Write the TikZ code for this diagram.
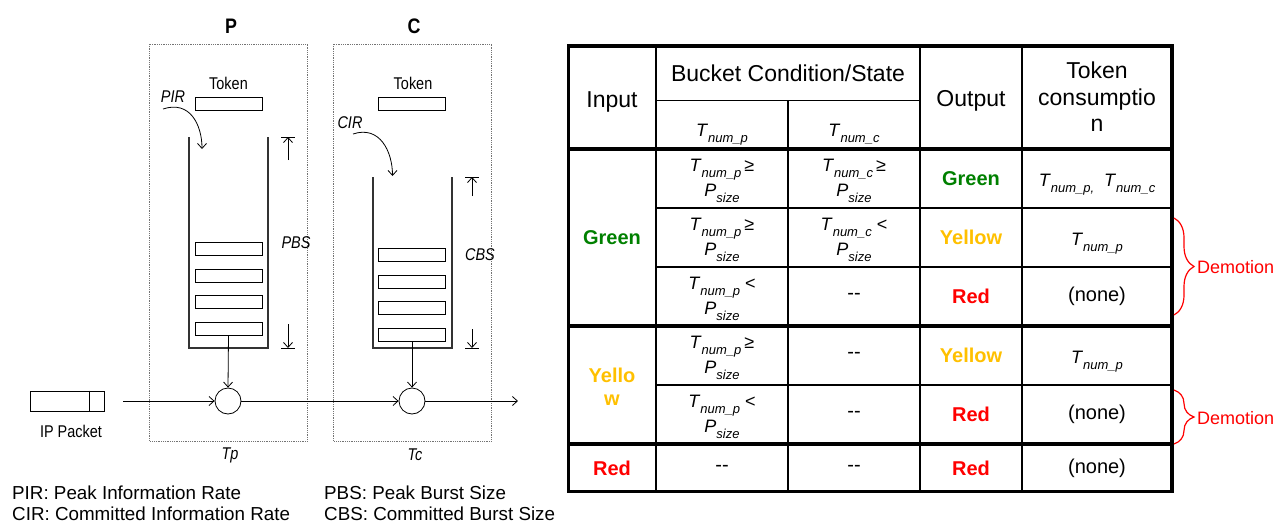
\documentclass[tikz,border=0pt]{standalone}
\usepackage{fontspec}
\setmainfont{Liberation Sans}
\newfontfamily\narrowsf[FakeStretch=0.85]{Liberation Sans}
\usetikzlibrary{arrows.meta,decorations.pathreplacing}
\definecolor{okgreen}{RGB}{0,128,0}
\definecolor{warnyellow}{RGB}{255,192,0}
\definecolor{alertred}{RGB}{255,0,0}
% italic symbol with a lowered italic index
\newcommand{\Tsub}[2]{\textit{#1}\raisebox{-6pt}{\fontsize{13}{13}\selectfont\itshape #2}}
% two plain hyphens, no en dash ligature
\newcommand{\nocond}{-{}-}

\begin{document}
\begin{tikzpicture}[x=1pt,y=-1pt,
  lbl/.style={inner sep=0pt, font=\narrowsf\fontsize{17}{20}\selectfont},
  ital/.style={inner sep=0pt, font=\narrowsf\itshape\fontsize{17}{20}\selectfont},
  title/.style={inner sep=0pt, font=\narrowsf\bfseries\fontsize{21}{24}\selectfont},
  tokenbar/.style={draw, line width=0.8pt, minimum width=67pt, minimum height=13pt, inner sep=0pt},
  wall/.style={draw=black!80, line width=1.1pt},
  area/.style={draw=black!55, densely dotted, line width=0.8pt},
  flow/.style={line width=0.8pt, -{Straight Barb[length=5pt,width=9pt]}},
  gate/.style={circle, draw, line width=0.8pt, minimum size=26pt, inner sep=0pt},
  legend/.style={inner sep=0pt, anchor=base west, font=\fontsize{18.8}{21}\selectfont},
  thin/.style={line width=1.5pt},
  thick/.style={line width=3.5pt},
  hdr/.style={inner sep=0pt, font=\fontsize{23}{26.5}\selectfont, align=center},
  cell/.style={inner sep=0pt, font=\fontsize{18}{25}\selectfont, align=center},
  state/.style={inner sep=0pt, font=\bfseries\fontsize{20}{23}\selectfont, align=center},
  body/.style={inner sep=0pt, font=\fontsize{20}{23}\selectfont},
  demo/.style={draw=alertred, line width=1.2pt, decorate, decoration={brace, amplitude=20pt, aspect=0.5}},
  demotxt/.style={inner sep=0pt, anchor=west, text=alertred, font=\fontsize{18}{20}\selectfont}
]
\useasboundingbox (0,0) rectangle (1279,525);

% ---------------- dual token bucket meter ----------------
\draw[area] (149.5,44) rectangle (307.5,441);
\draw[area] (333.5,44) rectangle (491.5,441);
\node[title] (ptitle) at (231,26) {P};
\node[title] (ctitle) at (414,26) {C};

% peak bucket
\node[lbl] (ptoktxt) at (228.5,83) {Token};
\node[tokenbar] (ptok) at (228.5,103.5) {};
\node[ital] (pir) at (173,97) {PIR};
\coordinate (pirfrom) at (163,109);
\coordinate (pirto) at (202,149);
\draw[flow] (pirfrom) .. controls (190,100) and (202,125) .. (pirto);
\draw[wall] (189,137) -- (189,348) -- (268,348) -- (268,137);
\node[tokenbar] (pb1) at (228.5,249) {};
\node[tokenbar] (pb2) at (228.5,275.5) {};
\node[tokenbar] (pb3) at (228.5,302) {};
\node[tokenbar] (pb4) at (228.5,328.5) {};
\coordinate (pbstop) at (288,137);
\coordinate (pbsbot) at (288,348);
\draw[flow] (288,160) -- (pbstop);
\draw[line width=0.8pt] ([xshift=-7pt]pbstop) -- ([xshift=7pt]pbstop);
\draw[flow] (288,324) -- (pbsbot);
\draw[line width=0.8pt] ([xshift=-7pt]pbsbot) -- ([xshift=7pt]pbsbot);
\node[ital] (pbs) at (296,243) {PBS};

% committed bucket
\node[lbl] (ctoktxt) at (413,83) {Token};
\node[tokenbar] (ctok) at (412,103.5) {};
\node[ital] (cir) at (350,123) {CIR};
\coordinate (cirfrom) at (353,134);
\coordinate (cirto) at (392.5,176);
\draw[flow] (cirfrom) .. controls (380,125) and (392.5,152) .. (cirto);
\draw[wall] (373,177) -- (373,348) -- (452,348) -- (452,177);
\node[tokenbar] (cb1) at (412,255) {};
\node[tokenbar] (cb2) at (412,281.7) {};
\node[tokenbar] (cb3) at (412,308.3) {};
\node[tokenbar] (cb4) at (412,335) {};
\coordinate (cbstop) at (472,177);
\coordinate (cbsbot) at (472,348);
\draw[flow] (472,196) -- (cbstop);
\draw[line width=0.8pt] ([xshift=-7pt]cbstop) -- ([xshift=7pt]cbstop);
\draw[flow] (472,329) -- (cbsbot);
\draw[line width=0.8pt] ([xshift=-7pt]cbsbot) -- ([xshift=7pt]cbsbot);
\node[ital] (cbs) at (480,255) {CBS};

% packet path
\node[draw, line width=0.8pt, minimum width=74pt, minimum height=20pt, inner sep=0pt] (ip) at (67,401) {};
\draw[line width=0.8pt] ([xshift=-15pt]ip.north east) -- ([xshift=-15pt]ip.south east);
\node[lbl] (iptxt) at (71,431) {IP Packet};
\node[gate] (pc) at (228,401) {};
\node[gate] (cc) at (412,401) {};
\coordinate (in) at (123,401);
\coordinate (out) at (518,401);
\draw[flow] (in) -- (pc.west);
\draw[flow] (pc.east) -- (cc.west);
\draw[flow] (cc.east) -- (out);
\draw[flow] (pb4.south) -- (pc.north);
\draw[flow] (cb4.south) -- (cc.north);
\node[ital] (tp) at (230,455) {Tp};
\node[ital] (tc) at (415,455) {Tc};

% legend
\node[legend] (l1) at (12,499) {PIR: Peak Information Rate};
\node[legend] (l2) at (12,520) {CIR: Committed Information Rate};
\node[legend] (l3) at (324,499) {PBS: Peak Burst Size};
\node[legend] (l4) at (324,520) {CBS: Committed Burst Size};

% ---------------- colour decision table ----------------
\draw[thin] (656,46) -- (656,491.5);
\draw[thin] (788,100.5) -- (788,491.5);
\draw[thin] (920,46) -- (920,491.5);
\draw[thin] (1022,46) -- (1022,491.5);
\draw[thin] (656,100.5) -- (920,100.5);
\draw[thin] (656,208) -- (1172,208);
\draw[thin] (656,267) -- (1172,267);
\draw[thin] (656,385) -- (1172,385);
\draw[thick] (568.5,149) -- (1172,149);
\draw[thick] (568.5,326) -- (1172,326);
\draw[thick] (568.5,444) -- (1172,444);
\draw[thick] (568.5,46) rectangle (1172,491.5);

% header
\node[hdr, anchor=base] (hin) at (612,107) {Input};
\node[hdr, anchor=base] (hbk) at (788,81) {Bucket Condition/State};
\node[hdr, anchor=base] (hp) at (722,136) {\fontsize{18}{20}\selectfont\Tsub{T}{num\_p}};
\node[hdr, anchor=base] (hc) at (854,136) {\fontsize{18}{20}\selectfont\Tsub{T}{num\_c}};
\node[hdr, anchor=base] (hout) at (971,106) {Output};
\node[hdr] (htok) at (1097,97) {Token\\consumptio\\n};

% input colours
\node[state, text=okgreen] (ig) at (612,237.5) {Green};
\node[state, text=warnyellow] (iy) at (612,387) {Yello\\w};
\node[state, text=alertred] (ir) at (612,468) {Red};

% row 1
\node[cell] (r1p) at (722,180.5) {\Tsub{T}{num\_p}\,≥\\\Tsub{P}{size}};
\node[cell] (r1c) at (854,180.5) {\Tsub{T}{num\_c}\,≥\\\Tsub{P}{size}};
\node[state, text=okgreen] (r1o) at (971,178.5) {Green};
\node[cell, anchor=base] (r1t) at (1097,186) {\Tsub{T}{num\_p,}\ \ \Tsub{T}{num\_c}};
% row 2
\node[cell] (r2p) at (722,239.5) {\Tsub{T}{num\_p}\,≥\\\Tsub{P}{size}};
\node[cell] (r2c) at (854,239.5) {\Tsub{T}{num\_c} <\\\Tsub{P}{size}};
\node[state, text=warnyellow] (r2o) at (971,237.5) {Yellow};
\node[cell, anchor=base] (r2t) at (1097,245) {\Tsub{T}{num\_p}};
% row 3
\node[cell] (r3p) at (722,298.5) {\Tsub{T}{num\_p} <\\\Tsub{P}{size}};
\node[body] (r3c) at (854,296.5) {\nocond};
\node[state, text=alertred] (r3o) at (971,296.5) {Red};
\node[body] (r3t) at (1097,296.5) {(none)};
% row 4
\node[cell] (r4p) at (722,357.5) {\Tsub{T}{num\_p}\,≥\\\Tsub{P}{size}};
\node[body] (r4c) at (854,355.5) {\nocond};
\node[state, text=warnyellow] (r4o) at (971,355.5) {Yellow};
\node[cell, anchor=base] (r4t) at (1097,363) {\Tsub{T}{num\_p}};
% row 5
\node[cell] (r5p) at (722,416.5) {\Tsub{T}{num\_p} <\\\Tsub{P}{size}};
\node[body] (r5c) at (854,414.5) {\nocond};
\node[state, text=alertred] (r5o) at (971,414.5) {Red};
\node[body] (r5t) at (1097,414.5) {(none)};
% row 6
\node[body] (r6p) at (722,468) {\nocond};
\node[body] (r6c) at (854,468) {\nocond};
\node[state, text=alertred] (r6o) at (971,468) {Red};
\node[body] (r6t) at (1097,468) {(none)};

% demotion braces
\coordinate (d1a) at (1174,218);
\coordinate (d1b) at (1174,315);
\draw[demo] (d1a) -- (d1b);
\node[demotxt] (d1) at (1197,267) {Demotion};
\coordinate (d2a) at (1174,390);
\coordinate (d2b) at (1174,444);
\draw[demo] (d2a) -- (d2b);
\node[demotxt] (d2) at (1197,418) {Demotion};
\end{tikzpicture}
\end{document}
